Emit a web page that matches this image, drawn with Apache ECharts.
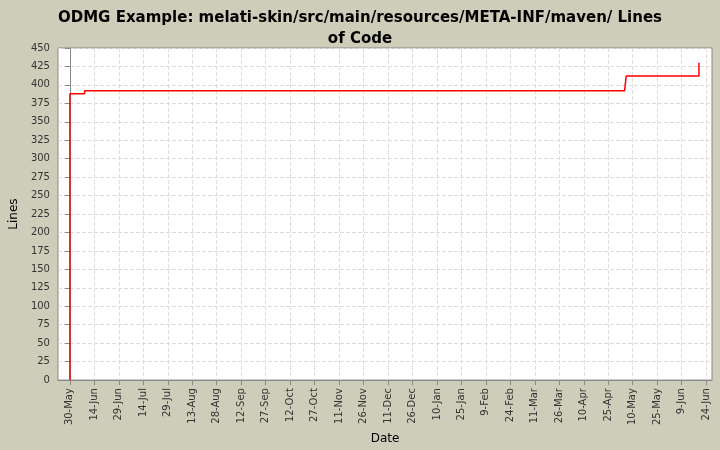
<!DOCTYPE html>
<html>
<head>
<meta charset="utf-8">
<script src="https://cdn.jsdelivr.net/npm/echarts@6/dist/echarts.min.js"></script>
<style>html,body{margin:0;padding:0;background:#cdcdb9;} #c{width:720px;height:450px;}</style>
</head>
<body>
<div id="c"></div>
<script>
// days since 30-May-2005
var stepDays = [0, 0, 9, 340, 341, 385.6, 385.6];
var stepLines = [0, 388, 392, 393, 412, 412, 430];
var tickDays = [];
for (var d = 0; d <= 390; d += 15) tickDays.push(d);

var base = Date.UTC(2005, 4, 30);
var months = ['Jan','Feb','Mar','Apr','May','Jun','Jul','Aug','Sep','Oct','Nov','Dec'];
function fmt(v) {
    var dt = new Date(base + Math.round(v) * 86400000);
    return dt.getUTCDate() + '-' + months[dt.getUTCMonth()];
}

var chart = echarts.init(document.getElementById('c'));
chart.setOption({
    backgroundColor: '#cdcdb9',
    animation: false,
    title: {
        text: 'ODMG Example: melati-skin/src/main/resources/META-INF/maven/ Lines\nof Code',
        left: 'center', top: 3,
        textStyle: {fontFamily: 'DejaVu Sans', fontSize: 15, fontWeight: 'bold', color: '#000', lineHeight: 21}
    },
    grid: {left: 55, right: 8, top: 48, bottom: 67, backgroundColor: '#fff', show: true, borderColor: '#888', borderWidth: 1},
    xAxis: {
        type: 'value', min: -7.3, max: 393.6,
        name: 'Date', nameLocation: 'middle', nameGap: 50,
        nameTextStyle: {fontFamily: 'DejaVu Sans', fontSize: 12, color: '#000'},
        axisLine: {lineStyle: {color: '#888'}},
        axisTick: {customValues: tickDays, lineStyle: {color: '#888'}},
        axisLabel: {customValues: tickDays, rotate: 90, formatter: fmt, fontFamily: 'DejaVu Sans', fontSize: 10, color: '#333'},
        splitLine: {show: true, lineStyle: {color: '#ddd', type: 'dashed'}}
    },
    yAxis: {
        type: 'value', min: 0, max: 450, interval: 25,
        name: 'Lines', nameLocation: 'middle', nameGap: 36,
        nameTextStyle: {fontFamily: 'DejaVu Sans', fontSize: 12, color: '#000'},
        axisLine: {show: true, lineStyle: {color: '#888'}},
        axisTick: {show: true, lineStyle: {color: '#888'}},
        axisLabel: {fontFamily: 'DejaVu Sans', fontSize: 10, color: '#333'},
        splitLine: {lineStyle: {color: '#ddd', type: 'dashed'}}
    },
    series: [{
        type: 'line', showSymbol: false, step: 'end',
        data: stepDays.map(function (d, i) { return [d, stepLines[i]]; }),
        lineStyle: {color: '#ff0000', width: 1.5}
    }]
});
</script>
</body>
</html>
